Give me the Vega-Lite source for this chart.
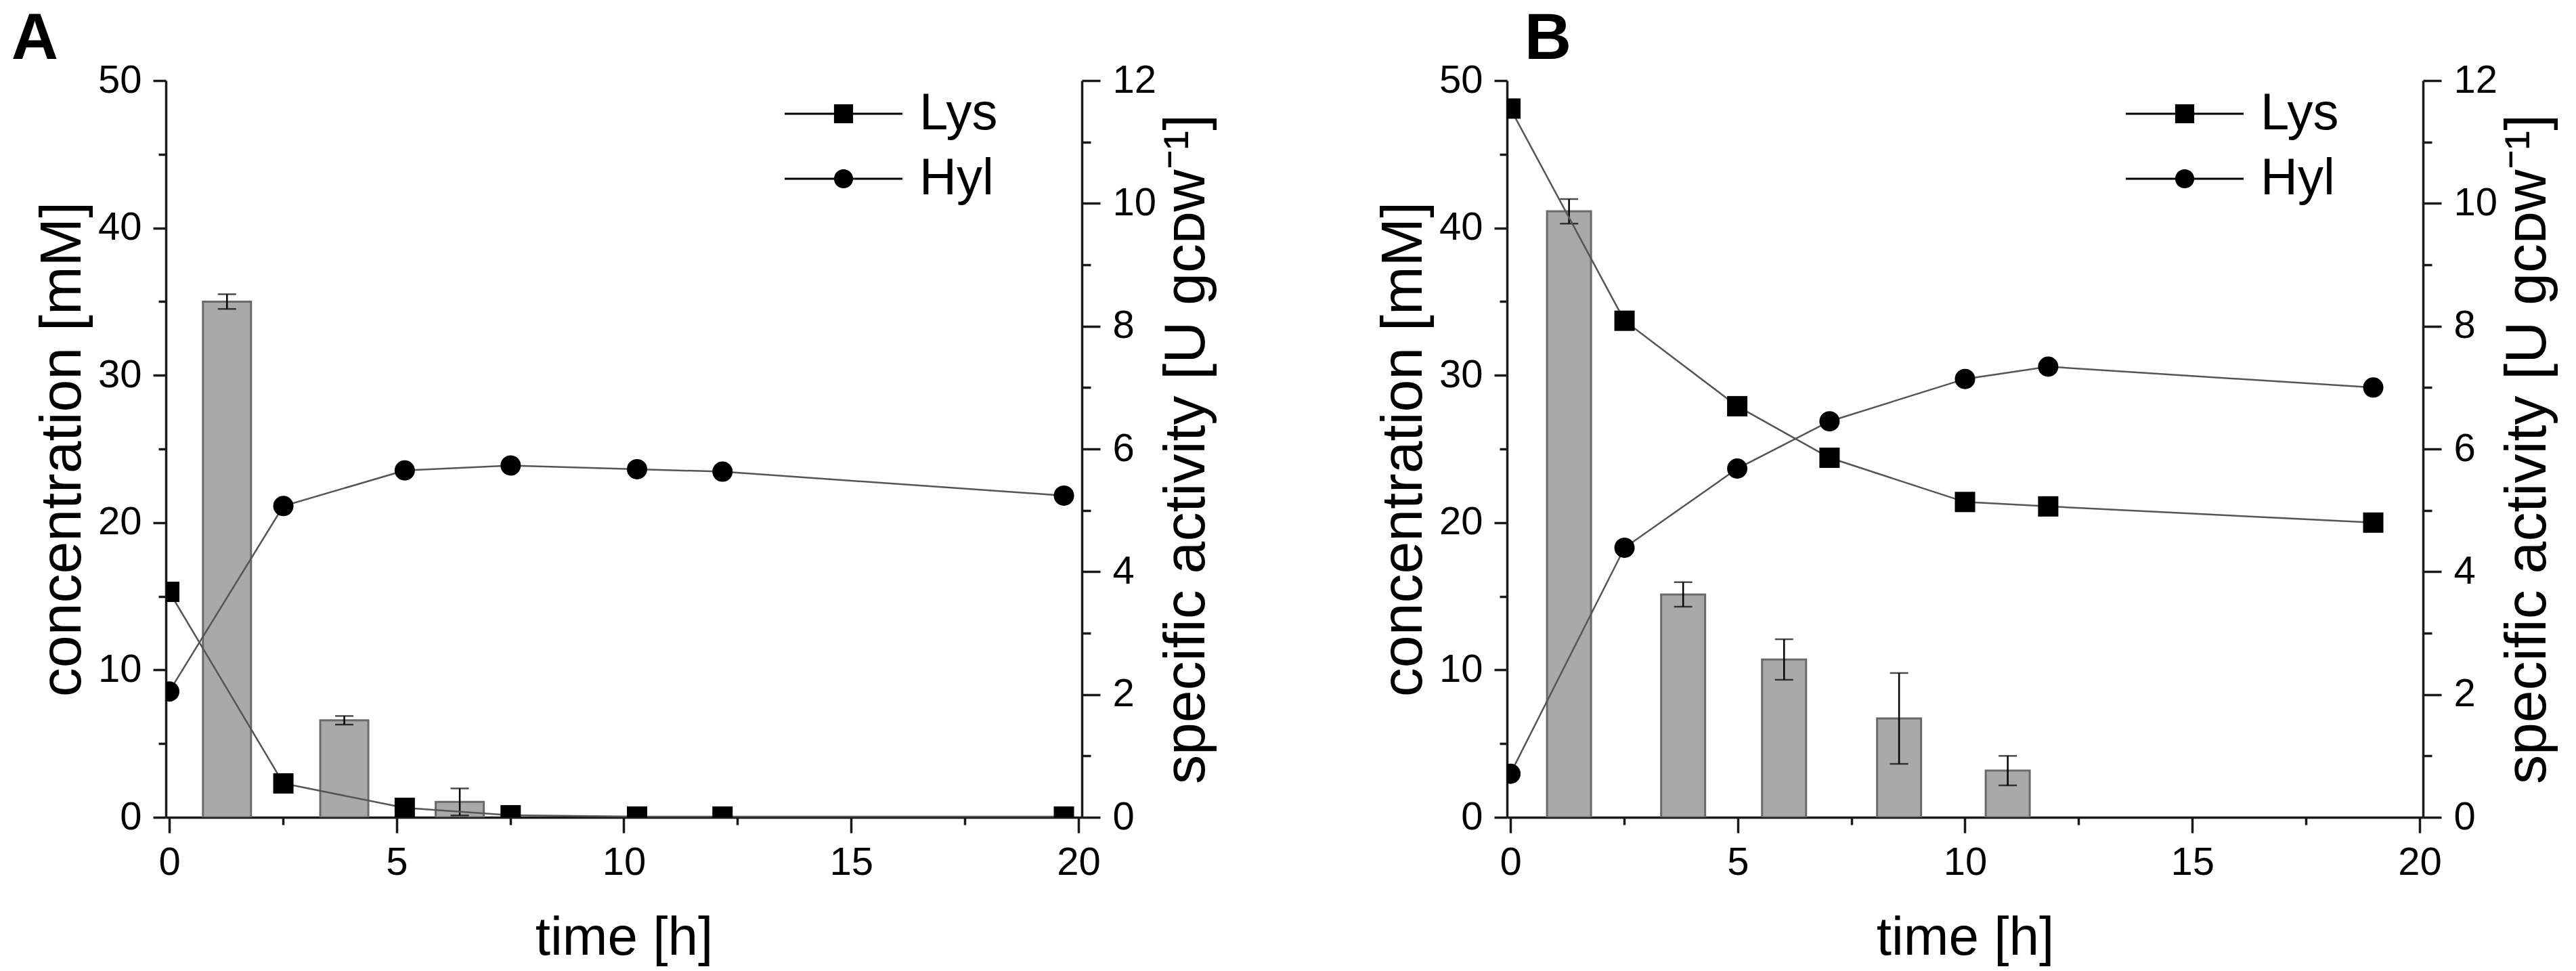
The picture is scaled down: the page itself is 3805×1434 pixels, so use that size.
{
  "$schema": "https://vega.github.io/schema/vega-lite/v6.json",
  "background": "white",
  "padding": {"left": 16, "top": 10, "right": 5, "bottom": 5},
  "spacing": 628,
  "bounds": "flush",
  "config": {
    "font": "Liberation Sans",
    "view": {"stroke": null},
    "axis": {
      "domainColor": "#1a1a1a", "domainWidth": 3.5,
      "tickColor": "#1a1a1a", "tickWidth": 3.5,
      "labelFont": "Liberation Sans", "labelFontSize": 58, "labelColor": "black",
      "titleFont": "Liberation Sans", "titleFontSize": 86, "titleFontWeight": "normal", "titleColor": "black",
      "grid": false, "labelFlush": false, "labelOverlap": false
    },
    "legend": {"labelFont": "Liberation Sans"}
  },
  "datasets": {
    "a_lys": [{"t":0,"conc":15.3},{"t":2.51,"conc":2.3},{"t":5.18,"conc":0.64},{"t":7.51,"conc":0.14},{"t":10.29,"conc":0.05},{"t":12.17,"conc":0.05},{"t":19.68,"conc":0.05}],
    "a_hyl": [{"t":0,"act":2.05},{"t":2.51,"act":5.07},{"t":5.18,"act":5.65},{"t":7.51,"act":5.73},{"t":10.29,"act":5.67},{"t":12.17,"act":5.63},{"t":19.68,"act":5.24}],
    "a_bars": [{"t":1.27,"act":8.4,"sd":0.12},{"t":3.85,"act":1.58,"sd":0.07},{"t":6.39,"act":0.25,"sd":0.22}],
    "b_lys": [{"t":0,"conc":48.1},{"t":2.51,"conc":33.7},{"t":4.99,"conc":27.9},{"t":7.02,"conc":24.4},{"t":10.0,"conc":21.4},{"t":11.83,"conc":21.1},{"t":18.98,"conc":20.0}],
    "b_hyl": [{"t":0,"act":0.71},{"t":2.51,"act":4.39},{"t":4.99,"act":5.68},{"t":7.02,"act":6.45},{"t":10.0,"act":7.14},{"t":11.83,"act":7.34},{"t":18.98,"act":7.0}],
    "b_bars": [{"t":1.29,"act":9.87,"sd":0.2},{"t":3.8,"act":3.63,"sd":0.2},{"t":6.02,"act":2.57,"sd":0.33},{"t":8.55,"act":1.61,"sd":0.74},{"t":10.94,"act":0.76,"sd":0.24}],
    "legend": [{"series":"Lys"},{"series":"Hyl"}]
  },
  "resolve": {"scale": {"shape": "independent"}, "legend": {"shape": "independent"}},
  "hconcat": [
    {
      "title": {"text": "A", "orient": "left", "anchor": "end", "frame": "group", "angle": 0, "align": "right", "baseline": "alphabetic", "fontSize": 96, "fontWeight": "bold", "font": "Liberation Sans", "color": "black", "offset": -106, "dy": -32},
      "width": 1353, "height": 1088,
      "layer": [
        {
          "layer": [
            {"data": {"name": "a_bars"}, "mark": {"type": "bar", "width": 71, "color": "#a9a9a9", "stroke": "#6a6a6a", "strokeWidth": 3, "clip": true},
             "encoding": {
               "x": {"field": "t", "type": "quantitative", "scale": {"domain": [0, 20], "nice": false, "zero": false},
                     "axis": {"orient": "bottom", "values": [0,2.5,5,7.5,10,12.5,15,17.5,20], "labelExpr": "datum.value % 5 === 0 ? datum.label : ''",
                              "tickSize": {"condition": {"test": "datum.value % 5 === 0", "value": 23}, "value": 11},
                              "title": "time [h]", "titleFontSize": 80, "labelPadding": 15, "titlePadding": 43}},
               "y": {"field": "act", "type": "quantitative", "scale": {"domain": [0, 12], "nice": false},
                     "axis": {"orient": "right", "values": [0,1,2,3,4,5,6,7,8,9,10,11,12], "labelExpr": "datum.value % 2 === 0 ? datum.label : ''",
                              "tickSize": {"condition": {"test": "datum.value % 2 === 0", "value": 27}, "value": 13},
                              "title": "specific activity [U gᴄᴅᴡ⁻¹]", "titleAngle": 270, "titleBaseline": "top", "labelPadding": 18, "titlePadding": 3}}
             }},
            {"data": {"name": "a_bars"}, "mark": {"type": "errorbar", "ticks": {"size": 27, "thickness": 2.5, "color": "black"}, "rule": {"color": "black", "strokeWidth": 2.5}},
             "encoding": {
               "x": {"field": "t", "type": "quantitative", "axis": null},
               "y": {"field": "act", "type": "quantitative", "axis": null},
               "yError": {"field": "sd"}
             }},
            {"data": {"name": "a_hyl"}, "mark": {"type": "line", "color": "#555555", "strokeWidth": 2.5, "clip": true},
             "encoding": {"x": {"field": "t", "type": "quantitative", "axis": null}, "y": {"field": "act", "type": "quantitative", "axis": null}}},
            {"data": {"name": "a_hyl"}, "mark": {"type": "point", "shape": "circle", "filled": true, "color": "black", "size": 900, "opacity": 1, "clip": true},
             "encoding": {"x": {"field": "t", "type": "quantitative", "axis": null}, "y": {"field": "act", "type": "quantitative", "axis": null}}}
          ],
          "resolve": {"axis": {"x": "independent", "y": "independent"}}
        },
        {
          "layer": [
            {"data": {"name": "a_lys"}, "mark": {"type": "line", "color": "#555555", "strokeWidth": 2.5, "clip": true},
             "encoding": {"x": {"field": "t", "type": "quantitative", "axis": null},
                          "y": {"field": "conc", "type": "quantitative", "scale": {"domain": [0, 50], "nice": false}, "axis": null}}},
            {"data": {"name": "a_lys"}, "mark": {"type": "point", "shape": "square", "filled": true, "color": "black", "size": 900, "opacity": 1, "clip": true},
             "encoding": {"x": {"field": "t", "type": "quantitative", "axis": null},
                          "y": {"field": "conc", "type": "quantitative",
                                "axis": {"orient": "left", "values": [0,5,10,15,20,25,30,35,40,45,50], "labelExpr": "datum.value % 10 === 0 ? datum.label : ''",
                                         "tickSize": {"condition": {"test": "datum.value % 10 === 0", "value": 19}, "value": 11},
                                         "title": "concentration [mM]", "labelPadding": 17, "titlePadding": 8}}}},
            {"data": {"name": "legend"}, "mark": {"type": "point", "opacity": 0, "filled": true, "color": "black"},
             "encoding": {"shape": {"field": "series", "type": "nominal",
               "scale": {"domain": ["Lys", "Hyl"], "range": ["M-2.9,-0.05H2.9V0.05H-2.9ZM-0.47,-0.47H0.47V0.47H-0.47Z", "M-2.9,-0.05H2.9V0.05H-2.9ZM0.47,0A0.47,0.47,0,1,1,-0.47,0A0.47,0.47,0,1,1,0.47,0Z"]},
               "legend": {"orient": "none", "legendX": 963, "legendY": 11, "title": null, "padding": 0, "labelFontSize": 76, "labelColor": "black", "labelOffset": 74, "rowPadding": 20, "symbolSize": 3600, "symbolOpacity": 1,
                          "symbolFillColor": "black", "symbolStrokeWidth": 0}}}}
          ],
          "resolve": {"axis": {"x": "independent", "y": "independent"}}
        }
      ],
      "resolve": {"scale": {"y": "independent"}, "axis": {"x": "independent", "y": "independent"}}
    },
    {
      "title": {"text": "B", "orient": "left", "anchor": "end", "frame": "group", "angle": 0, "align": "right", "baseline": "alphabetic", "fontSize": 96, "fontWeight": "bold", "font": "Liberation Sans", "color": "black", "offset": -360, "dy": -32},
      "width": 1353, "height": 1088,
      "layer": [
        {
          "layer": [
            {"data": {"name": "b_bars"}, "mark": {"type": "bar", "width": 65, "color": "#a9a9a9", "stroke": "#6a6a6a", "strokeWidth": 3, "clip": true},
             "encoding": {
               "x": {"field": "t", "type": "quantitative", "scale": {"domain": [0, 20], "nice": false, "zero": false},
                     "axis": {"orient": "bottom", "values": [0,2.5,5,7.5,10,12.5,15,17.5,20], "labelExpr": "datum.value % 5 === 0 ? datum.label : ''",
                              "tickSize": {"condition": {"test": "datum.value % 5 === 0", "value": 23}, "value": 11},
                              "title": "time [h]", "titleFontSize": 80, "labelPadding": 15, "titlePadding": 43}},
               "y": {"field": "act", "type": "quantitative", "scale": {"domain": [0, 12], "nice": false},
                     "axis": {"orient": "right", "values": [0,1,2,3,4,5,6,7,8,9,10,11,12], "labelExpr": "datum.value % 2 === 0 ? datum.label : ''",
                              "tickSize": {"condition": {"test": "datum.value % 2 === 0", "value": 27}, "value": 13},
                              "title": "specific activity [U gᴄᴅᴡ⁻¹]", "titleAngle": 270, "titleBaseline": "top", "labelPadding": 18, "titlePadding": 3}}
             }},
            {"data": {"name": "b_bars"}, "mark": {"type": "errorbar", "ticks": {"size": 27, "thickness": 2.5, "color": "black"}, "rule": {"color": "black", "strokeWidth": 2.5}},
             "encoding": {
               "x": {"field": "t", "type": "quantitative", "axis": null},
               "y": {"field": "act", "type": "quantitative", "axis": null},
               "yError": {"field": "sd"}
             }},
            {"data": {"name": "b_hyl"}, "mark": {"type": "line", "color": "#555555", "strokeWidth": 2.5, "clip": true},
             "encoding": {"x": {"field": "t", "type": "quantitative", "axis": null}, "y": {"field": "act", "type": "quantitative", "axis": null}}},
            {"data": {"name": "b_hyl"}, "mark": {"type": "point", "shape": "circle", "filled": true, "color": "black", "size": 900, "opacity": 1, "clip": true},
             "encoding": {"x": {"field": "t", "type": "quantitative", "axis": null}, "y": {"field": "act", "type": "quantitative", "axis": null}}}
          ],
          "resolve": {"axis": {"x": "independent", "y": "independent"}}
        },
        {
          "layer": [
            {"data": {"name": "b_lys"}, "mark": {"type": "line", "color": "#555555", "strokeWidth": 2.5, "clip": true},
             "encoding": {"x": {"field": "t", "type": "quantitative", "axis": null},
                          "y": {"field": "conc", "type": "quantitative", "scale": {"domain": [0, 50], "nice": false}, "axis": null}}},
            {"data": {"name": "b_lys"}, "mark": {"type": "point", "shape": "square", "filled": true, "color": "black", "size": 900, "opacity": 1, "clip": true},
             "encoding": {"x": {"field": "t", "type": "quantitative", "axis": null},
                          "y": {"field": "conc", "type": "quantitative",
                                "axis": {"orient": "left", "values": [0,5,10,15,20,25,30,35,40,45,50], "labelExpr": "datum.value % 10 === 0 ? datum.label : ''",
                                         "tickSize": {"condition": {"test": "datum.value % 10 === 0", "value": 19}, "value": 11},
                                         "title": "concentration [mM]", "labelPadding": 17, "titlePadding": 8}}}},
            {"data": {"name": "legend"}, "mark": {"type": "point", "opacity": 0, "filled": true, "color": "black"},
             "encoding": {"shape": {"field": "series", "type": "nominal",
               "scale": {"domain": ["Lys", "Hyl"], "range": ["M-2.9,-0.05H2.9V0.05H-2.9ZM-0.47,-0.47H0.47V0.47H-0.47Z", "M-2.9,-0.05H2.9V0.05H-2.9ZM0.47,0A0.47,0.47,0,1,1,-0.47,0A0.47,0.47,0,1,1,0.47,0Z"]},
               "legend": {"orient": "none", "legendX": 963, "legendY": 11, "title": null, "padding": 0, "labelFontSize": 76, "labelColor": "black", "labelOffset": 74, "rowPadding": 20, "symbolSize": 3600, "symbolOpacity": 1,
                          "symbolFillColor": "black", "symbolStrokeWidth": 0}}}}
          ],
          "resolve": {"axis": {"x": "independent", "y": "independent"}}
        }
      ],
      "resolve": {"scale": {"y": "independent"}, "axis": {"x": "independent", "y": "independent"}}
    }
  ]
}
